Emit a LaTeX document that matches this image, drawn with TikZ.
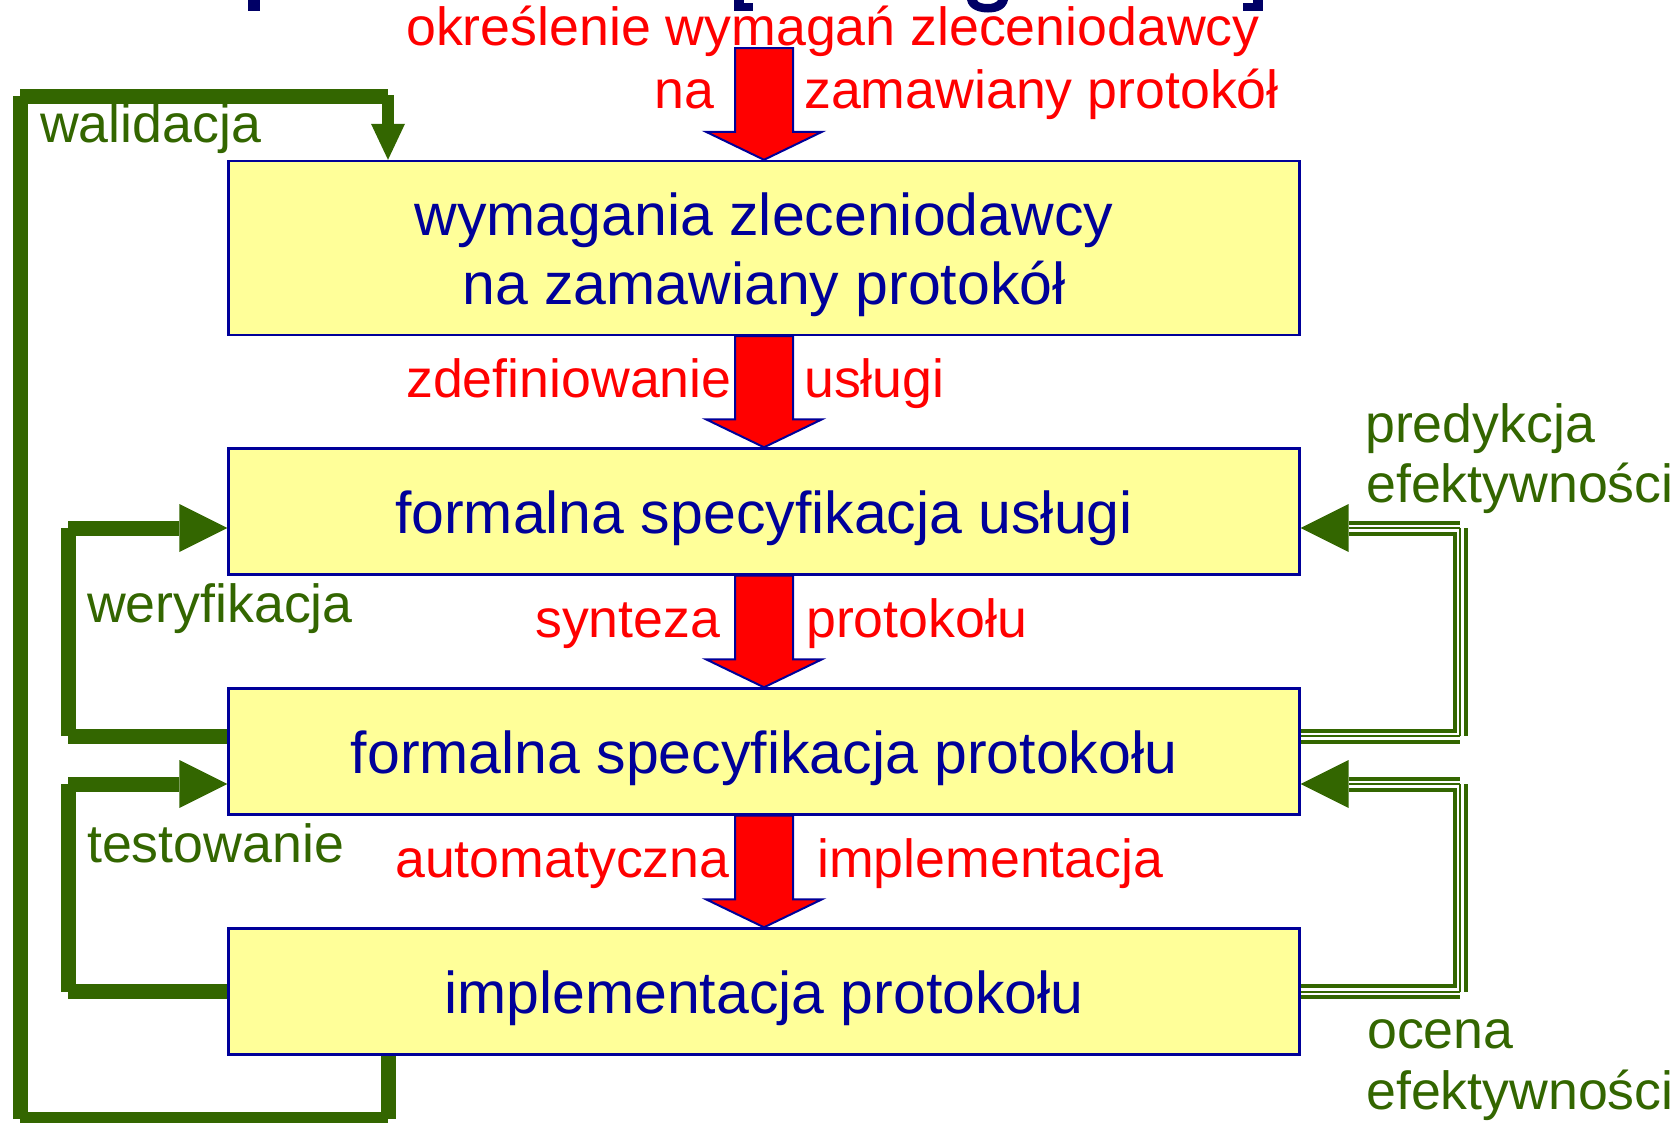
\documentclass[tikz,border=0pt]{standalone}
\usepackage{fontspec}
\setmainfont{Liberation Sans}
\usetikzlibrary{calc}
\definecolor{boxfill}{HTML}{FFFF99}
\definecolor{boxline}{HTML}{000099}
\definecolor{leaf}{HTML}{336600}
\definecolor{navy}{HTML}{000066}

% wide red arrow pointing down from #1 to #2
\newcommand{\fatdown}[2]{%
  \draw[fatarrow] ($(#1)+(-29,0)$) -- ($(#2)+(-29,-28)$) -- ($(#2)+(-58,-28)$)
    -- (#2) -- ($(#2)+(58,-28)$) -- ($(#2)+(29,-28)$) -- ($(#1)+(29,0)$) -- cycle;}

\begin{document}
\begin{tikzpicture}[x=1pt,y=-1pt,
  stage/.style={draw=boxline, fill=boxfill, line width=2.4pt, minimum width=1071pt,
    inner sep=0pt, text=boxline, font=\fontsize{59}{70}\selectfont,
    text height=43pt, text depth=0pt},
  boxtext/.style={text=boxline, font=\fontsize{59}{70}\selectfont, inner sep=0pt, anchor=base},
  redlbl/.style={text=red, font=\fontsize{53.7}{62}\selectfont, inner sep=0pt, anchor=base west},
  greenlbl/.style={text=leaf, font=\fontsize{53.7}{62}\selectfont, inner sep=0pt, anchor=base west},
  fatarrow/.style={fill=red, draw=boxline, line width=2pt, line join=miter},
  loopline/.style={draw=leaf, line width=15pt, line cap=butt},
  tripleline/.style={draw=leaf, line width=15pt, line cap=butt,
    postaction={draw=white, line width=7pt},
    postaction={draw=leaf, line width=2pt}},
]
\useasboundingbox (0,0) rectangle (1680,1122);

% remnants of the heading above
\fill[navy] (248,0) rectangle (260,11);
\fill[navy] (734,0) rectangle (744,11);
\fill[navy] (734,3) rectangle (753,11);
\fill[navy] (967,0) .. controls (969,10) and (980,12.5) .. (988,12.5)
  .. controls (998,12.5) and (1006,9) .. (1008,0) -- (998,0)
  .. controls (996,3) and (992,4) .. (988,4)
  .. controls (983,4) and (978,3) .. (977,0) -- cycle;
\fill[navy] (1253,0) rectangle (1263,11);
\fill[navy] (1243,3) rectangle (1263,11);

% stages
\node[stage, minimum height=174pt] (b1) at (764,248) {};
\node[stage, minimum height=126pt] (b2) at (764,511.5) {formalna specyfikacja usługi};
\node[stage, minimum height=126pt] (b3) at (764,751.5) {formalna specyfikacja protokołu};
\node[stage, minimum height=126pt] (b4) at (764,991.5) {implementacja protokołu};
\node[boxtext] (t1a) at (764,235) {wymagania zleceniodawcy};
\node[boxtext] (t1b) at (764,304) {na zamawiany protokół};

% main flow
\coordinate (src) at (764,48);
\fatdown{src}{b1.north}
\fatdown{b1.south}{b2.north}
\fatdown{b2.south}{b3.north}
\fatdown{b3.south}{b4.north}

% feedback loops on the left
\coordinate (lx) at (68,0);
\coordinate (w2in) at ([yshift=-16.5pt]b2.west);
\coordinate (w3out) at ([yshift=15.5pt]b3.west);
\coordinate (w3in) at ([yshift=-32.5pt]b3.west);
\coordinate (w4out) at (b4.west);

\draw[loopline] (w3out) -- (w3out -| lx) (w3out -| lx) -- (w2in -| lx)
  (w2in -| lx) -- ([xshift=-48pt]w2in);
\fill[leaf] (w2in) -- ([xshift=-48pt,yshift=24pt]w2in) -- ([xshift=-48pt,yshift=-24pt]w2in) -- cycle;

\draw[loopline] (w4out) -- (w4out -| lx) (w4out -| lx) -- (w3in -| lx)
  (w3in -| lx) -- ([xshift=-48pt]w3in);
\fill[leaf] (w3in) -- ([xshift=-48pt,yshift=24pt]w3in) -- ([xshift=-48pt,yshift=-24pt]w3in) -- cycle;

% outer validation loop
\coordinate (vx) at (388,0);
\coordinate (vb) at (388,1119);
\coordinate (ob) at (20,1119);
\coordinate (ot) at (20,96);
\coordinate (vt) at (388,96);
\coordinate (vin) at (b1.north -| vx);
\draw[loopline] (b4.south -| vx) -- (vb) (vb) -- (ob) (ob) -- (ot) (ot) -- (vt);
\draw[loopline, line width=12pt] ([yshift=1pt]vt) -- ([yshift=36pt]vin);
\fill[leaf] (vin) -- ([xshift=-17pt,yshift=36pt]vin) -- ([xshift=17pt,yshift=36pt]vin) -- cycle;

% performance loops on the right
\coordinate (rx) at (1460,0);
\coordinate (e2in) at ([yshift=-16.5pt]b2.east);
\coordinate (e3out) at ([yshift=15.5pt]b3.east);
\coordinate (e3in) at ([yshift=-32.5pt]b3.east);
\coordinate (e4out) at (b4.east);

\draw[tripleline] (e3out) -- (e3out -| rx) (e3out -| rx) -- (e2in -| rx)
  (e2in -| rx) -- ([xshift=48pt]e2in);
\fill[leaf] (e2in) -- ([xshift=48pt,yshift=24pt]e2in) -- ([xshift=48pt,yshift=-24pt]e2in) -- cycle;

\draw[tripleline] (e4out) -- (e4out -| rx) (e4out -| rx) -- (e3in -| rx)
  (e3in -| rx) -- ([xshift=48pt]e3in);
\fill[leaf] (e3in) -- ([xshift=48pt,yshift=24pt]e3in) -- ([xshift=48pt,yshift=-24pt]e3in) -- cycle;

% step labels
\node[redlbl] (l0a) at (406,45) {określenie wymagań zleceniodawcy};
\node[redlbl] (l0b) at (654,108) {na};
\node[redlbl] (l0c) at (804,108) {zamawiany protokół};
\node[redlbl] (l1a) at (406,397) {zdefiniowanie};
\node[redlbl] (l1b) at (804,397) {usługi};
\node[redlbl] (l2a) at (535,637) {synteza};
\node[redlbl] (l2b) at (806,637) {protokołu};
\node[redlbl] (l3a) at (395,877) {automatyczna};
\node[redlbl] (l3b) at (817,877) {implementacja};

% loop labels
\node[greenlbl] (g1) at (40,142) {walidacja};
\node[greenlbl] (g2) at (87,622) {weryfikacja};
\node[greenlbl] (g3) at (87,862) {testowanie};
\node[greenlbl] (g4) at (1365,442) {predykcja};
\node[greenlbl] (g5) at (1366,502) {efektywności};
\node[greenlbl] (g6) at (1367,1048) {ocena};
\node[greenlbl] (g7) at (1366,1109) {efektywności};
\end{tikzpicture}
\end{document}
